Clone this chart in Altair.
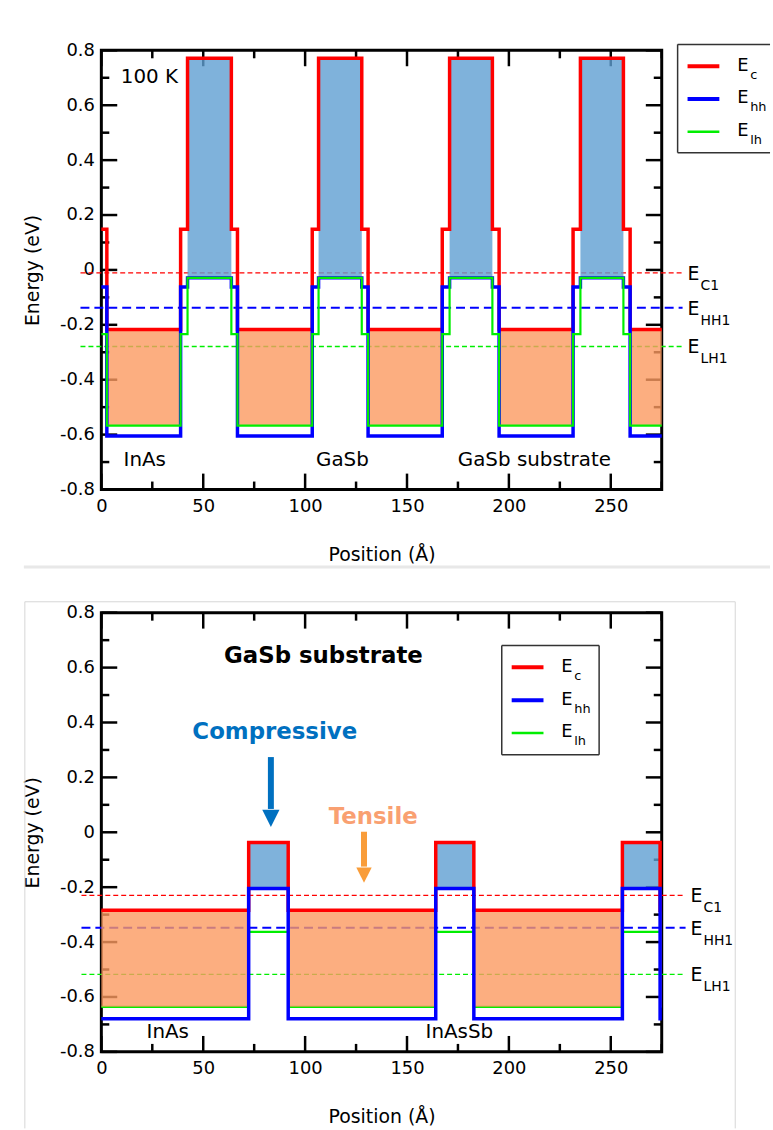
import altair as alt
import pandas as pd

FONT = "DejaVu Sans"
W, H = 564, 442
SPACING = 124

RED, BLUE, GREEN = "#ff0000", "#0000ff", "#00ee00"
ORANGE_FILL, BLUE_FILL = "#fb9a60", "#5f9fd2"

# ---------------- axes ----------------
x_major = [0, 50, 100, 150, 200, 250]
x_minor = [25, 75, 125, 175, 225, 275]
y_major = [-0.8, -0.6, -0.4, -0.2, 0, 0.2, 0.4, 0.6, 0.8]
y_minor = [-0.7, -0.5, -0.3, -0.1, 0.1, 0.3, 0.5, 0.7]

# ---------------- top panel: InAs/GaSb, 100 K ----------------
top_edges = [0, 2.7, 38.9, 42.3, 63.8, 66.8, 103.5, 106.6, 127.8, 130.9,
             167.3, 170.9, 191.9, 195.2, 231.5, 235.1, 256.2, 259.5, 275]
top_layer = ["IF", "InAs", "IF", "GaSb", "IF", "InAs", "IF", "GaSb", "IF", "InAs",
             "IF", "GaSb", "IF", "InAs", "IF", "GaSb", "IF", "InAs"]
top_ec = [0.148, -0.217, 0.148, 0.771, 0.148, -0.217, 0.148, 0.771, 0.148, -0.217,
          0.148, 0.771, 0.148, -0.217, 0.148, 0.771, 0.148, -0.217]
top_ehh = [-0.062, -0.605, -0.062, -0.029, -0.062, -0.605, -0.062, -0.029, -0.062, -0.605,
           -0.062, -0.029, -0.062, -0.605, -0.062, -0.029, -0.062, -0.605]
top_elh = [-0.234, -0.567, -0.234, -0.029, -0.234, -0.567, -0.234, -0.029, -0.234, -0.567,
           -0.234, -0.029, -0.234, -0.567, -0.234, -0.029, -0.234, -0.567]
top_level_sub = ["C1", "HH1", "LH1"]
top_level_val = [-0.011, -0.138, -0.279]
top_text = ["100 K", "InAs", "GaSb", "GaSb substrate"]
top_text_x = [23.6, 21.3, 118.3, 212.5]
top_text_y = [0.703, -0.692, -0.692, -0.692]

# ---------------- bottom panel: InAs/InAsSb on GaSb ----------------
bot_edges = [0, 72.3, 91.7, 164.1, 182.8, 255.7, 274.2, 275]
bot_layer = ["InAs", "InAsSb", "InAs", "InAsSb", "InAs", "InAsSb", "InAs"]
bot_ec = [-0.284, -0.037, -0.284, -0.037, -0.284, -0.037, -0.284]
bot_ehh = [-0.679, -0.205, -0.679, -0.205, -0.679, -0.205, -0.679]
bot_elh = [-0.636, -0.363, -0.636, -0.363, -0.636, -0.363, -0.636]
bot_level_sub = ["C1", "HH1", "LH1"]
bot_level_val = [-0.230, -0.348, -0.518]
bot_text = ["InAs", "InAsSb"]
bot_text_x = [32.6, 175.7]
bot_text_y = [-0.726, -0.726]
bot_bold_text = ["GaSb substrate", "Compressive", "Tensile"]
bot_bold_x = [109.0, 85.1, 133.4]
bot_bold_y = [0.643, 0.364, 0.056]
bot_bold_color = ["#000000", "#0070c0", "#f9a071"]
arrow_x = [83.2, 128.9]
arrow_top = [0.274, 0.002]
arrow_head = [0.051, -0.156]
arrow_shaft_end = [0.085, -0.125]
arrow_color = ["#0070c0", "#f99d3a"]
arrow_size = [300, 240]

legend_sub = ["c", "hh", "lh"]
legend_color = [RED, BLUE, GREEN]
legend_width = [4, 4, 2.5]
level_color = [RED, BLUE, GREEN]
level_dash = [[5, 3], [9, 5], [5, 3]]
level_width = [1.3, 2.0, 1.3]

LABEL_EXPR = ("datum.value == 0 ? '0' : (datum.value < 0 ? '-' + format(-datum.value, '.1f')"
              " : format(datum.value, '.1f'))")


def X(field="x"):
    return alt.X(f"{field}:Q",
                 scale=alt.Scale(domain=[0, 275], nice=False, zero=False),
                 axis=alt.Axis(values=x_major, title="Position (Å)", labelFlush=False,
                               labelPadding=8, titlePadding=30))


def Y(field="y"):
    return alt.Y(f"{field}:Q",
                 scale=alt.Scale(domain=[-0.8, 0.8], nice=False, zero=False),
                 axis=alt.Axis(values=y_major, labelExpr=LABEL_EXPR, title="Energy (eV)",
                               labelPadding=7, titlePadding=17))


def step_df(edges, levels):
    return pd.DataFrame({"x": list(edges), "y": list(levels) + [levels[-1]]})


def rect_df(edges, layers, top, bottom, which):
    rows = [dict(x=edges[i], x2=edges[i + 1], y=top[i], y2=bottom[i])
            for i, l in enumerate(layers) if l == which]
    return pd.DataFrame(rows)


def tick_layers():
    out = []
    base = dict(color="black", strokeWidth=2.5)
    for vals, ln in ((y_major, 16), (y_minor, 8)):
        d = pd.DataFrame({"y": vals})
        out.append(alt.Chart(d).mark_rule(**base).encode(y=Y(), x=alt.value(0), x2=alt.value(ln)))
        out.append(alt.Chart(d).mark_rule(**base).encode(y=Y(), x=alt.value(W), x2=alt.value(W - ln)))
    for vals, ln in ((x_major, 16), (x_minor, 8)):
        d = pd.DataFrame({"x": vals})
        out.append(alt.Chart(d).mark_rule(**base).encode(x=X(), y=alt.value(H), y2=alt.value(H - ln)))
        out.append(alt.Chart(d).mark_rule(**base).encode(x=X(), y=alt.value(0), y2=alt.value(ln)))
    return out


def level_layers(subs, vals, x1, x2, xlab):
    out = []
    for i, (s, v) in enumerate(zip(subs, vals)):
        d = pd.DataFrame({"y": [v], "e": ["E"], "s": [s]})
        out.append(alt.Chart(d).mark_rule(color=level_color[i], strokeWidth=level_width[i],
                                          strokeDash=level_dash[i])
                   .encode(y=Y(), x=alt.value(x1), x2=alt.value(x2)))
        out.append(alt.Chart(d).mark_text(font=FONT, fontSize=19, align="left",
                                          baseline="alphabetic", dy=7, color="black")
                   .encode(y=Y(), x=alt.value(xlab), text="e:N"))
        out.append(alt.Chart(d).mark_text(font=FONT, fontSize=14, align="left",
                                          baseline="alphabetic", dy=17, color="black")
                   .encode(y=Y(), x=alt.value(xlab + 13), text="s:N"))
    return out


def legend_layers(box, line_x, line_y, text_x, closed):
    bx1, by1, bx2, by2 = box
    out = []
    one = pd.DataFrame({"k": [0]})
    frame = dict(color="#333333", strokeWidth=1.5)
    out.append(alt.Chart(one).mark_rule(**frame).encode(x=alt.value(bx1), x2=alt.value(bx2), y=alt.value(by1)))
    out.append(alt.Chart(one).mark_rule(**frame).encode(x=alt.value(bx1), x2=alt.value(bx2), y=alt.value(by2)))
    out.append(alt.Chart(one).mark_rule(**frame).encode(x=alt.value(bx1), y=alt.value(by1), y2=alt.value(by2)))
    if closed:
        out.append(alt.Chart(one).mark_rule(**frame).encode(x=alt.value(bx2), y=alt.value(by1), y2=alt.value(by2)))
    for i, s in enumerate(legend_sub):
        d = pd.DataFrame({"e": ["E"], "s": [s]})
        yy = line_y[0] + i * (line_y[1] - line_y[0])
        out.append(alt.Chart(d).mark_rule(color=legend_color[i], strokeWidth=legend_width[i])
                   .encode(x=alt.value(line_x[0]), x2=alt.value(line_x[1]), y=alt.value(yy)))
        out.append(alt.Chart(d).mark_text(font=FONT, fontSize=18, align="left", baseline="alphabetic")
                   .encode(x=alt.value(text_x), y=alt.value(yy + 4.5), text="e:N"))
        out.append(alt.Chart(d).mark_text(font=FONT, fontSize=13, align="left", baseline="alphabetic")
                   .encode(x=alt.value(text_x + 13), y=alt.value(yy + 12.5), text="s:N"))
    return out


def band_line(edges, levels, color, width):
    return alt.Chart(step_df(edges, levels)).mark_line(
        color=color, strokeWidth=width, interpolate="step-after").encode(x=X(), y=Y())


def fill_rect(df, color):
    return alt.Chart(df).mark_rect(color=color, opacity=0.8).encode(
        x=X(), x2=alt.X2("x2"), y=Y(), y2=alt.Y2("y2"))


one = pd.DataFrame({"k": [0]})

# ---------------- top chart ----------------
top_layers = []
top_layers.append(alt.Chart(one).mark_rect(opacity=0).encode(
    x=alt.value(-100), x2=alt.value(673), y=alt.value(-45), y2=alt.value(520)))
top_layers.append(alt.Chart(one).mark_rule(color="#e8e8e8", strokeWidth=3).encode(
    x=alt.value(-78), x2=alt.value(673), y=alt.value(520)))
top_layers += level_layers(top_level_sub, top_level_val, -21, 585, 590)
top_layers += tick_layers()
top_layers.append(fill_rect(rect_df(top_edges, top_layer, top_ec, top_elh, "InAs"), ORANGE_FILL))
top_layers.append(fill_rect(rect_df(top_edges, top_layer, top_ec, top_elh, "GaSb"), BLUE_FILL))
top_layers.append(band_line(top_edges, top_ec, RED, 3.5))
top_layers.append(band_line(top_edges, top_ehh, BLUE, 3.5))
top_layers.append(band_line(top_edges, top_elh, GREEN, 2.2))
top_txt = pd.DataFrame({"x": top_text_x, "y": top_text_y, "t": top_text})
top_layers.append(alt.Chart(top_txt).mark_text(font=FONT, fontSize=20, align="center",
                                               baseline="middle", color="black")
                  .encode(x=X(), y=Y(), text="t:N"))
top_layers += legend_layers((580, -6, 673, 103), (590, 622), (16, 49), 640, False)

top_chart = alt.layer(*top_layers).properties(width=W, height=H)

# ---------------- bottom chart ----------------
bot_layers = []
bot_layers.append(alt.Chart(one).mark_rect(opacity=0).encode(
    x=alt.value(-100), x2=alt.value(673), y=alt.value(-40), y2=alt.value(519)))
gray = dict(color="#d6d6d6", strokeWidth=1)
bot_layers.append(alt.Chart(one).mark_rule(**gray).encode(x=alt.value(-77), x2=alt.value(638), y=alt.value(-11)))
bot_layers.append(alt.Chart(one).mark_rule(**gray).encode(x=alt.value(-77), y=alt.value(-11), y2=alt.value(519)))
bot_layers.append(alt.Chart(one).mark_rule(**gray).encode(x=alt.value(638), y=alt.value(-11), y2=alt.value(519)))
bot_layers += level_layers(bot_level_sub, bot_level_val, -20, 588, 593)
bot_layers += tick_layers()
bot_layers.append(band_line(bot_edges, bot_elh, GREEN, 2.2))
bot_layers.append(fill_rect(rect_df(bot_edges, bot_layer, bot_ec, bot_elh, "InAs"), ORANGE_FILL))
bot_layers.append(fill_rect(rect_df(bot_edges, bot_layer, bot_ec, bot_ehh, "InAsSb"), BLUE_FILL))
bot_layers.append(band_line(bot_edges, bot_ec, RED, 3.5))
bot_layers.append(band_line(bot_edges, bot_ehh, BLUE, 3.5))
bot_txt = pd.DataFrame({"x": bot_text_x, "y": bot_text_y, "t": bot_text})
bot_layers.append(alt.Chart(bot_txt).mark_text(font=FONT, fontSize=20, align="center",
                                               baseline="middle", color="black")
                  .encode(x=X(), y=Y(), text="t:N"))
for i, t in enumerate(bot_bold_text):
    d = pd.DataFrame({"x": [bot_bold_x[i]], "y": [bot_bold_y[i]], "t": [t]})
    bot_layers.append(alt.Chart(d).mark_text(font=FONT, fontSize=23, fontWeight="bold",
                                             align="center", baseline="middle",
                                             color=bot_bold_color[i])
                      .encode(x=X(), y=Y(), text="t:N"))
for i in range(len(arrow_x)):
    d = pd.DataFrame({"x": [arrow_x[i]], "y": [arrow_top[i]], "y2": [arrow_shaft_end[i]]})
    bot_layers.append(alt.Chart(d).mark_rule(color=arrow_color[i], strokeWidth=6)
                      .encode(x=X(), y=Y(), y2=alt.Y2("y2")))
    h = pd.DataFrame({"x": [arrow_x[i]], "y": [arrow_head[i]]})
    bot_layers.append(alt.Chart(h).mark_point(shape="M-1,-1L1,-1L0,1Z", filled=True,
                                              size=arrow_size[i], color=arrow_color[i],
                                              opacity=1, strokeWidth=0)
                      .encode(x=X(), y=Y()))
bot_layers += legend_layers((403, 33, 501, 143), (413, 445), (55, 88), 463, True)

bot_chart = alt.layer(*bot_layers).properties(width=W, height=H)

chart = alt.vconcat(top_chart, bot_chart, spacing=SPACING, bounds="flush").properties(
    padding=0
).configure_view(stroke="black", strokeWidth=3).configure_axis(
    labelFont=FONT, labelFontSize=18, labelColor="black",
    titleFont=FONT, titleFontSize=19, titleFontWeight="normal", titleColor="black",
    grid=False, domain=False, ticks=False, tickSize=0
)

chart.save("out.html", embed_options={"renderer": "svg", "actions": False})
